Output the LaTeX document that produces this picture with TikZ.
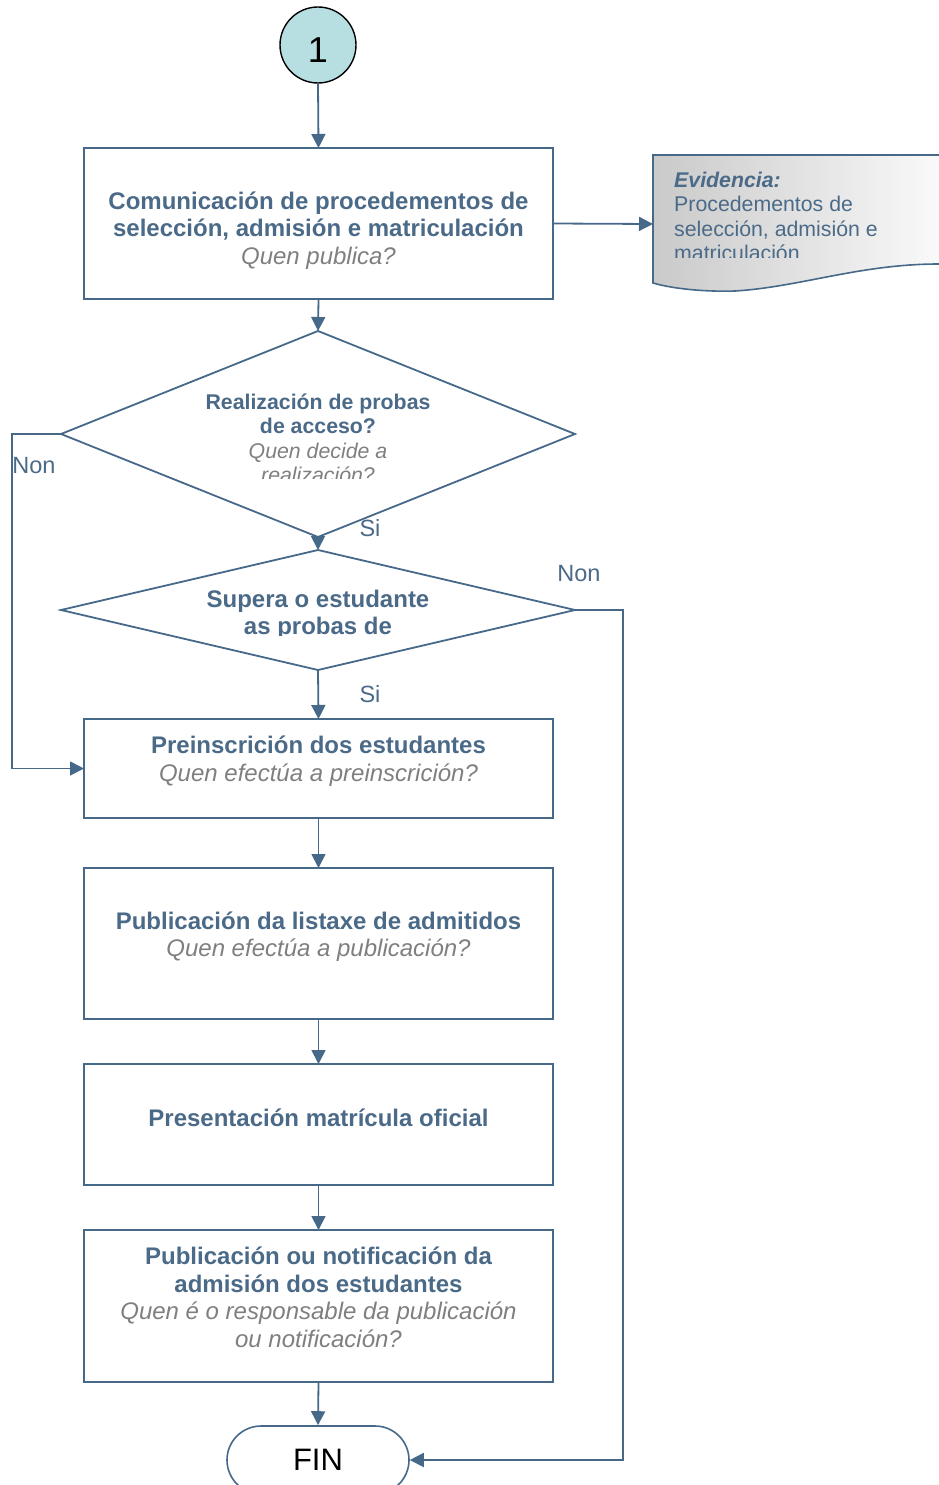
\documentclass[tikz,border=0pt]{standalone}
\usepackage{fontspec}
\setmainfont{Liberation Sans}
\usetikzlibrary{shapes.geometric,shapes.misc,arrows.meta}
\definecolor{lnc}{HTML}{46698A}
\definecolor{tx}{HTML}{4A6A88}
\definecolor{gr}{HTML}{7F7F7F}
\definecolor{cf}{HTML}{B7DFE1}
\newcommand\ttl[1]{{\color{tx}\bfseries #1}}
\newcommand\qqq[1]{{\color{gr}\itshape #1}}
\begin{document}
\begin{tikzpicture}[x=1pt,y=-1pt,
  box/.style={draw=lnc,line width=1.8pt,minimum width=469pt,inner sep=0,outer sep=0},
  dia/.style={diamond,draw=lnc,line width=1.8pt,minimum width=514pt,inner sep=0,outer sep=0},
  wire/.style={draw=lnc,line width=1.8pt},
  arr/.style={wire,-{Triangle[length=14pt,width=14pt]}},
  bigtxt/.style={font=\fontsize{24}{27.5}\selectfont,align=center,inner sep=0},
  smtxt/.style={font=\fontsize{21.3}{24.5}\selectfont,align=center,inner sep=0},
  lbl/.style={font=\fontsize{23.5}{27.5}\selectfont,text=tx,inner sep=0}]
\useasboundingbox (0,0) rectangle (939,1485);
\clip (0,0) rectangle (939,1485);

% start circle
\node[circle,draw=black,line width=1.4pt,fill=cf,minimum size=76pt,inner sep=0] (c1) at (318,45) {};
\node[font=\fontsize{36}{40}\selectfont,inner sep=0] (c1t) at (318,50) {1};

% boxes
\node[box,minimum height=151pt] (b1) at (318.5,223.5) {};
\node[bigtxt] (t1) at (318.5,230.5) {\ttl{Comunicación de procedementos de}\\\ttl{selección, admisión e matriculación}\\\qqq{Quen publica?}};

\node[box,minimum height=99pt] (b2) at (318.5,768.5) {};
\node[bigtxt] (t2) at (318.5,761) {\ttl{Preinscrición dos estudantes}\\\qqq{Quen efectúa a preinscrición?}};

\node[box,minimum height=151pt] (b3) at (318.5,943.5) {};
\node[bigtxt] (t3) at (318.5,936.5) {\ttl{Publicación da listaxe de admitidos}\\\qqq{Quen efectúa a publicación?}};

\node[box,minimum height=121pt] (b4) at (318.5,1124.5) {};
\node[bigtxt] (t4) at (318.5,1118) {\ttl{Presentación matrícula oficial}};

\node[box,minimum height=152pt] (b5) at (318.5,1306) {};
\node[bigtxt] (t5) at (318.5,1297.5) {\ttl{Publicación ou notificación da}\\\ttl{admisión dos estudantes}\\\qqq{Quen é o responsable da publicación}\\\qqq{ou notificación?}};

% diamonds
\node[dia,minimum height=206pt] (d1) at (318,434) {};
\begin{scope}
  \clip (100,380) rectangle (540,478);
  \node[smtxt] (t6) at (318,438.5) {\ttl{Realización de probas}\\\ttl{de acceso?}\\\qqq{Quen decide a}\\\qqq{realización?}};
\end{scope}

\node[dia,minimum height=120pt] (d2) at (318,610) {};
\begin{scope}
  \clip (100,580) rectangle (540,635);
  \node[bigtxt] (t7) at (318,615) {\ttl{Supera o estudante}\\\ttl{as probas de}};
\end{scope}

% evidence document
\path[left color=gray!42,right color=gray!3,draw=lnc,line width=1.6pt]
  (653,155) -- (950,155) -- (950,264) -- (939,264)
  .. controls (860,264) and (800,287) .. (735,291)
  .. controls (700,292) and (670,288) .. (653,283) -- cycle;
\coordinate (evw) at (653,224);
\begin{scope}
  \clip (660,160) rectangle (939,257.5);
  \node[font=\fontsize{21.3}{24.5}\selectfont,align=left,inner sep=0,anchor=west,text=tx] (ev) at (674,216.5)
    {\textbf{\textit{Evidencia:}}\\Procedementos de\\selección, admisión e\\matriculación};
\end{scope}

% end
\node[rounded rectangle,draw=lnc,line width=1.6pt,fill=white,minimum width=182pt,minimum height=68pt,
      inner sep=0,font=\fontsize{31}{34}\selectfont] (fin) at (318,1460) {FIN};

% connectors
\draw[arr] (c1.south) -- (b1.north);
\draw[arr] (b1.east) -- (evw);
\draw[arr] (b1.south) -- (d1.north);
\draw[arr] (d1.south) -- (d2.north);
\draw[arr] (d1.west) -- ++(-49,0) |- (b2.west);
\draw[arr] (d2.south) -- (b2.north);
\draw[arr] (d2.east) -- ++(48,0) |- (fin.east);
\draw[arr] (b2.south) -- (b3.north);
\draw[arr] (b3.south) -- (b4.north);
\draw[arr] (b4.south) -- (b5.north);
\draw[arr] (b5.south) -- (fin.north);

% labels
\node[lbl] (n1) at (34,466) {Non};
\node[lbl] (s1) at (370,528) {Si};
\node[lbl] (n2) at (579,574) {Non};
\node[lbl] (s2) at (370,694) {Si};
\end{tikzpicture}
\end{document}
